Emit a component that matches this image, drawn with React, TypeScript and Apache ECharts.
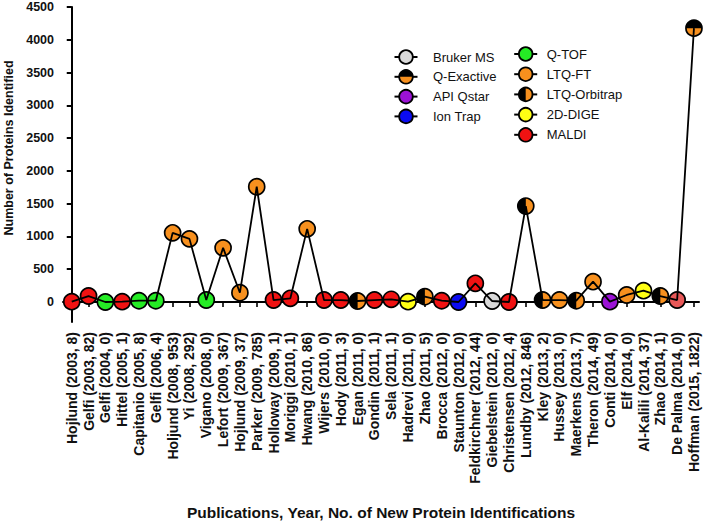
import React, { useEffect, useRef } from "react";
import * as echarts from "echarts";

const categories = [
  "Hojlund (2003, 8)", "Gelfi (2003, 82)", "Gelfi (2004, 0)", "Hittel (2005, 1)", "Capitanio (2005, 8)",
  "Gelfi (2006, 4)", "Holjund (2008, 953)", "Yi (2008, 292)", "Vigano (2008, 0)", "Lefort (2009, 367)",
  "Hojlund (2009, 37)", "Parker (2009, 785)", "Holloway (2009, 1)", "Moriggi (2010, 1)", "Hwang (2010, 86)",
  "Wijers (2010, 0)", "Hody (2011, 3)", "Egan (2011, 0)", "Gondin (2011, 1)", "Sela (2011, 1)",
  "Hadrevi (2011, 0)", "Zhao (2011, 5)", "Brocca (2012, 0)", "Staunton (2012, 0)", "Feldkirchner (2012, 44)",
  "Giebelstein (2012, 0)", "Christensen (2012, 4)", "Lundby (2012, 846)", "Kley (2013, 2)", "Hussey (2013, 0)",
  "Maerkens (2013, 7)", "Theron (2014, 49)", "Conti (2014, 0)", "Elf (2014, 0)", "Al-Kalili (2014, 37)",
  "Zhao (2014, 1)", "De Palma (2014, 0)", "Hoffman (2015, 1822)",
];

const proteins = [
  5, 91, 0, 5, 20,
  20, 1055, 963, 30, 826,
  142, 1758, 30, 56, 1116,
  30, 30, 15, 30, 41,
  5, 81, 20, 0, 285,
  15, 0, 1463, 30, 30,
  20, 310, 5, 107, 173,
  91, 30, 4177,
];

const instruments = [
  "MALDI", "MALDI", "Q-TOF", "MALDI", "Q-TOF",
  "Q-TOF", "LTQ-FT", "LTQ-FT", "Q-TOF", "LTQ-FT",
  "LTQ-FT", "LTQ-FT", "MALDI", "MALDI", "LTQ-FT",
  "MALDI", "MALDI", "LTQ-Orbitrap", "MALDI", "MALDI",
  "2D-DIGE", "LTQ-Orbitrap", "MALDI", "Ion Trap", "MALDI",
  "Bruker MS", "MALDI", "LTQ-Orbitrap", "LTQ-Orbitrap", "LTQ-FT",
  "LTQ-Orbitrap", "LTQ-FT", "API Qstar", "LTQ-FT", "2D-DIGE",
  "LTQ-Orbitrap", "MALDI", "Q-Exactive",
];

const legendCol1 = ["Bruker MS", "Q-Exactive", "API Qstar", "Ion Trap"];
const legendCol2 = ["Q-TOF", "LTQ-FT", "LTQ-Orbitrap", "2D-DIGE", "MALDI"];

const yTicks = [0, 500, 1000, 1500, 2000, 2500, 3000, 3500, 4000, 4500];

// styles
const ORANGE = "#f7901e";
const fills: Record<string, string> = {
  "Bruker MS": "#d9d9d9",
  "Q-Exactive": ORANGE,
  "API Qstar": "#9b12d6",
  "Ion Trap": "#0b0bf2",
  "Q-TOF": "#25ec25",
  "LTQ-FT": ORANGE,
  "LTQ-Orbitrap": ORANGE,
  "2D-DIGE": "#ffff14",
  MALDI: "#f01212",
};
const colorOverride: Record<number, string> = { 36: "#e85858" };

const FONT = 'Arial, "Liberation Sans", sans-serif';
const TOP_HALF = "path://M0,10 C0,4.477 4.477,0 10,0 C15.523,0 20,4.477 20,10 Z";
const LEFT_HALF = "path://M10,0 C4.477,0 0,4.477 0,10 C0,15.523 4.477,20 10,20 Z";

function legendGraphics() {
  const els: any[] = [];
  const item = (name: string, cx: number, cy: number, tx: number) => {
    els.push({
      type: "line",
      shape: { x1: cx - 11.5, y1: cy, x2: cx + 11.5, y2: cy },
      style: { stroke: "#000", lineWidth: 2 },
      silent: true,
    });
    els.push({
      type: "circle",
      shape: { cx, cy, r: 6.8 },
      style: { fill: fills[name], stroke: "#000", lineWidth: 1.8 },
      silent: true,
    });
    if (name === "Q-Exactive" || name === "LTQ-Orbitrap") {
      const top = name === "Q-Exactive";
      els.push({
        type: "sector",
        shape: {
          cx, cy, r: 6.8, r0: 0,
          startAngle: top ? Math.PI : Math.PI / 2,
          endAngle: top ? Math.PI * 2 : (Math.PI * 3) / 2,
          clockwise: true,
        },
        style: { fill: "#000" },
        silent: true,
      });
    }
    els.push({
      type: "text",
      x: tx,
      y: cy,
      style: {
        text: name,
        fill: "#111",
        font: `13px ${FONT}`,
        verticalAlign: "middle",
        align: "left",
      },
      silent: true,
    });
  };
  legendCol1.forEach((n, k) => item(n, 406, 57 + 19.8 * k, 433));
  legendCol2.forEach((n, k) => item(n, 525.7, 54 + 20.2 * k, 546.7));
  return els;
}

export default function App() {
  const ref = useRef<HTMLDivElement>(null);
  useEffect(() => {
    if (!ref.current) return;
    const chart = echarts.init(ref.current, null, { renderer: "svg" });
    const idx = categories.map((_, i) => i);
    const types = ["Bruker MS", "Q-Exactive", "API Qstar", "Ion Trap", "Q-TOF", "LTQ-FT", "LTQ-Orbitrap", "2D-DIGE", "MALDI"];

    const baseSeries = types.map((t) => ({
      type: "scatter",
      name: t,
      symbol: "circle",
      symbolSize: 16,
      z: 2,
      itemStyle: { color: fills[t], borderColor: "#000", borderWidth: 1.7, opacity: 1 },
      emphasis: { disabled: true },
      data: idx
        .filter((i) => instruments[i] === t)
        .map((i) =>
          colorOverride[i]
            ? { value: [i, proteins[i]], itemStyle: { color: colorOverride[i] } }
            : [i, proteins[i]]
        ),
    }));

    const halfSeries = [
      {
        type: "scatter",
        name: "Q-Exactive half",
        symbol: TOP_HALF,
        symbolSize: [16, 8],
        symbolOffset: [0, -4],
        z: 3,
        itemStyle: { color: "#000", borderWidth: 0, opacity: 1 },
        emphasis: { disabled: true },
        data: idx.filter((i) => instruments[i] === "Q-Exactive").map((i) => [i, proteins[i]]),
      },
      {
        type: "scatter",
        name: "LTQ-Orbitrap half",
        symbol: LEFT_HALF,
        symbolSize: [8, 16],
        symbolOffset: [-4, 0],
        z: 3,
        itemStyle: { color: "#000", borderWidth: 0, opacity: 1 },
        emphasis: { disabled: true },
        data: idx.filter((i) => instruments[i] === "LTQ-Orbitrap").map((i) => [i, proteins[i]]),
      },
    ];

    const lineSeries = {
      type: "line",
      name: "Proteins",
      symbol: "none",
      z: 4,
      lineStyle: { color: "#000", width: 1.8 },
      emphasis: { disabled: true },
      data: idx.map((i) => [i, proteins[i]]),
    };

    chart.setOption({
      animation: false,
      grid: { left: 63, right: 10, top: 7, bottom: 202, containLabel: false, outerBoundsMode: "none" },
      xAxis: {
        type: "value",
        min: -0.52,
        max: 37.3,
        name: "Publications, Year, No. of New Protein Identifications",
        nameLocation: "middle",
        nameGap: 182,
        nameTextStyle: { fontFamily: FONT, fontWeight: "bold", fontSize: 15.5, color: "#111" },
        splitLine: { show: false },
        axisLine: { show: true, lineStyle: { color: "#000", width: 2 } },
        axisTick: {
          show: true,
          customValues: idx,
          length: 5,
          lineStyle: { color: "#000", width: 1.6 },
        },
        axisLabel: {
          show: true,
          customValues: idx,
          rotate: 90,
          margin: 10,
          fontFamily: FONT,
          fontWeight: "bold",
          fontSize: 14,
          color: "#111",
          formatter: (v: number) => categories[Math.round(v)] ?? "",
        },
      },
      yAxis: {
        type: "value",
        min: -305,
        max: 4500,
        name: "Number of Proteins Identified",
        nameLocation: "middle",
        nameGap: 45,
        nameTextStyle: { fontFamily: FONT, fontWeight: "bold", fontSize: 12.5, color: "#111", padding: [0, 0, 0, 33] },
        splitLine: { show: false },
        axisLine: { show: true, lineStyle: { color: "#000", width: 2 } },
        axisTick: {
          show: true,
          customValues: yTicks,
          length: 5,
          lineStyle: { color: "#000", width: 2 },
        },
        axisLabel: {
          show: true,
          customValues: yTicks,
          margin: 9,
          fontFamily: FONT,
          fontWeight: "bold",
          fontSize: 12.5,
          color: "#111",
          formatter: (v: number) => String(Math.round(v)),
        },
      },
      series: [...baseSeries, ...halfSeries, lineSeries],
      graphic: legendGraphics(),
    });
    return () => chart.dispose();
  }, []);
  return (
    <div
      ref={ref}
      style={{ position: "fixed", left: 0, top: 0, width: 709, height: 524, background: "#fff" }}
    />
  );
}
